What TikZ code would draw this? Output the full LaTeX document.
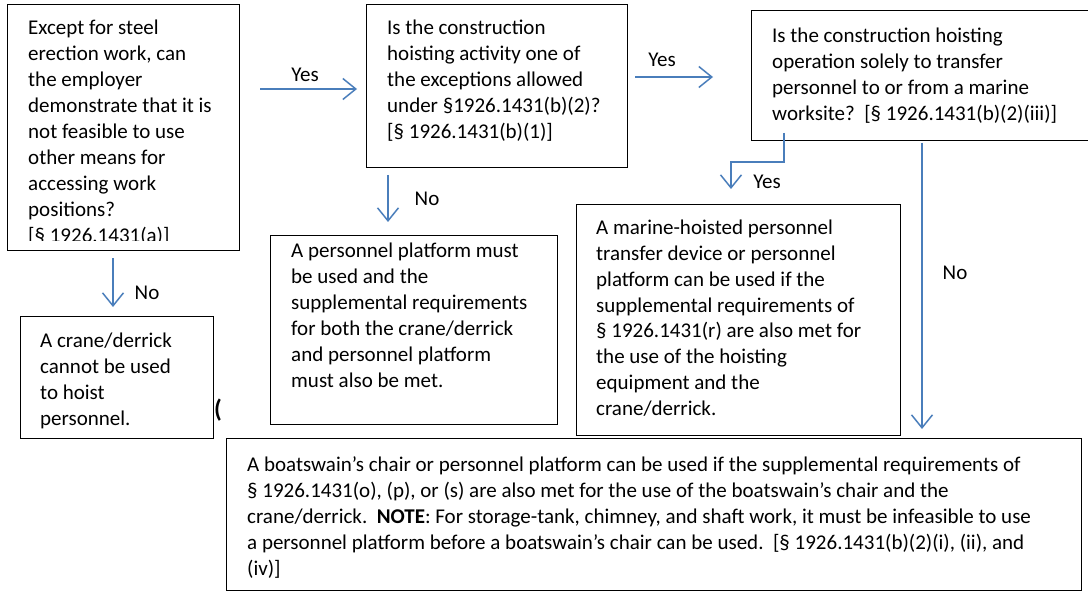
\documentclass[tikz,border=0pt]{standalone}
\usepackage{fontspec}
\setmainfont{Carlito}
\usetikzlibrary{arrows.meta}
\definecolor{arrblue}{HTML}{4A7EBB}
\tikzset{
  box/.style={draw=black, line width=1.1pt, anchor=north west, inner sep=0pt},
  arr/.style={draw=arrblue, line width=1.5pt, -{Straight Barb[length=13pt,width=21pt]}},
  lbl/.style={font=\fontsize{21}{26}\selectfont, inner sep=0pt},
  txt/.style={anchor=base west, inner sep=0pt, font=\fontsize{21}{26}\selectfont},
}
\newcommand{\bxt}[2]{\parbox[t]{#1}{\fontsize{21}{26}\selectfont\raggedright #2}}
\begin{document}
\begin{tikzpicture}[x=1pt,y=-1pt]
\useasboundingbox (0,0) rectangle (1088,591);
\clip (0,0) rectangle (1088,591);
\fill[white] (0,0) rectangle (1088,591);

% boxes
\node[box, minimum width=232pt, minimum height=246pt] (A) at (7,4) {};
\node[box, minimum width=261pt, minimum height=163pt] (B) at (366,4) {};
\node[box, minimum width=345pt, minimum height=130pt] (C) at (751,10) {};
\node[box, minimum width=193pt, minimum height=122pt] (D) at (20,316) {};
\node[box, minimum width=287pt, minimum height=189pt] (E) at (270,235) {};
\node[box, minimum width=324pt, minimum height=231pt] (F) at (576,204) {};
\node[box, minimum width=855pt, minimum height=152pt] (G) at (226,438) {};

% texts
\begin{scope}
\clip (7,4) rectangle (239,240);
\node[txt] (tA) at (28,35) {\bxt{205pt}{Except for steel\\ erection work, can\\ the employer\\ demonstrate that it is\\ not feasible to use\\ other means for\\ accessing work\\ positions?\\ {[}§ 1926.1431(a)]}};
\end{scope}
\node[txt] (tB) at (387,35) {\bxt{235pt}{Is the construction\\ hoisting activity one of\\ the exceptions allowed\\ under §1926.1431(b)(2)?\\ {[}§ 1926.1431(b)(1)]}};
\node[txt] (tC) at (772,43) {\bxt{300pt}{Is the construction hoisting\\ operation solely to transfer\\ personnel to or from a marine\\ worksite?~~[§ 1926.1431(b)(2)(iii)]}};
\node[txt] (tD) at (40,347) {\bxt{170pt}{A crane/derrick\\ cannot be used\\ to hoist\\ personnel.}};
\node[txt] (tE) at (291,258) {\bxt{260pt}{A personnel platform must\\ be used and the\\ supplemental requirements\\ for both the crane/derrick\\ and personnel platform\\ must also be met.}};
\node[txt] (tF) at (596,234) {\bxt{300pt}{A marine-hoisted personnel\\ transfer device or personnel\\ platform can be used if the\\ supplemental requirements of\\ § 1926.1431(r) are also met for\\ the use of the hoisting\\ equipment and the\\ crane/derrick.}};
\node[txt] (tG) at (247,471) {\bxt{830pt}{A boatswain’s chair or personnel platform can be used if the supplemental requirements of\\ § 1926.1431(o), (p), or (s) are also met for the use of the boatswain’s chair and the\\ crane/derrick.~~\textbf{NOTE}: For storage-tank, chimney, and shaft work, it must be infeasible to use\\ a personnel platform before a boatswain’s chair can be used.~~[§ 1926.1431(b)(2)(i), (ii), and\\ (iv)]}};

% stray parenthesis
\node[anchor=base west, inner sep=0pt, font=\fontsize{25}{28}\selectfont\bfseries] (paren) at (214,417) {(};

% connector end points
\coordinate (a1) at (260,89);  \coordinate (b1) at (357,89);
\coordinate (a2) at (635,77);  \coordinate (b2) at (713,77);
\coordinate (a3) at (113,258); \coordinate (b3) at (113,307);
\coordinate (a4) at (388,175); \coordinate (b4) at (388,222);
\coordinate (a5) at (784,133); \coordinate (k5) at (784,162); \coordinate (m5) at (731,162); \coordinate (b5) at (731,189);
\coordinate (a6) at (922,143); \coordinate (b6) at (922,429);

\draw[arr] (a1) -- (b1);
\draw[arr] (a2) -- (b2);
\draw[arr] (a3) -- (b3);
\draw[arr] (a4) -- (b4);
\draw[arr] (a5) -- (k5) -- (m5) -- (b5);
\draw[arr] (a6) -- (b6);

% labels
\node[lbl] (l1) at (305,75) {Yes};
\node[lbl] (l2) at (662,60) {Yes};
\node[lbl] (l3) at (147,293) {No};
\node[lbl] (l4) at (427,199) {No};
\node[lbl] (l5) at (767,182) {Yes};
\node[lbl] (l6) at (955,273) {No};
\end{tikzpicture}
\end{document}
